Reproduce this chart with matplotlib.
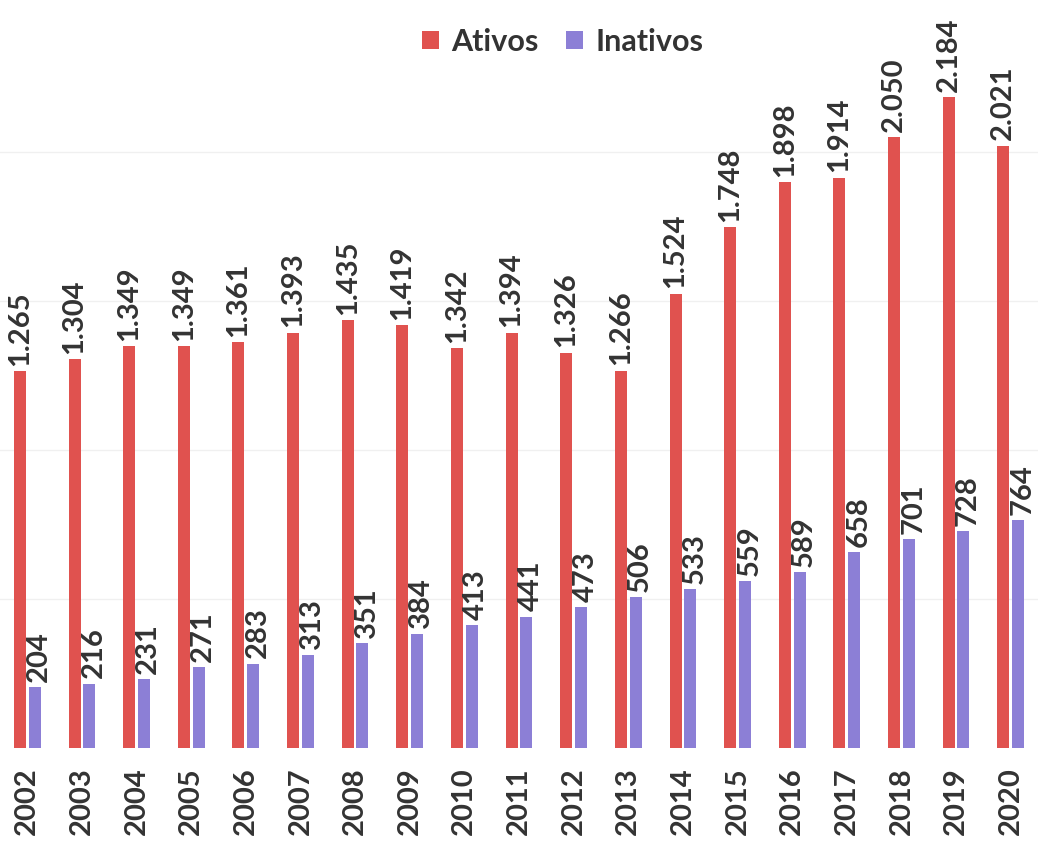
import matplotlib
matplotlib.use("Agg")
import matplotlib.pyplot as plt
import numpy as np

# Dados
anos = ['2002', '2003', '2004', '2005', '2006', '2007', '2008', '2009', '2010',
        '2011', '2012', '2013', '2014', '2015', '2016', '2017', '2018', '2019', '2020']
ativos = [1265, 1304, 1349, 1349, 1361, 1393, 1435, 1419, 1342,
          1394, 1326, 1266, 1524, 1748, 1898, 1914, 2050, 2184, 2021]
inativos = [204, 216, 231, 271, 283, 313, 351, 384, 413,
            441, 473, 506, 533, 559, 589, 658, 701, 728, 764]

plt.rcParams['font.family'] = ['Lato', 'DejaVu Sans']

cor_ativos = '#e0524f'
cor_inativos = '#8c7fd6'
cor_texto = '#333333'

fig = plt.figure(figsize=(10.38, 8.42), dpi=100)
ax = fig.add_axes([0.0, 0.1116, 1.0, 0.885])

ind = np.arange(len(anos))
width = 0.22
off = 0.135

rects1 = ax.bar(ind - off, ativos, width, color=cor_ativos, label='Ativos', zorder=2)
rects2 = ax.bar(ind + off, inativos, width, color=cor_inativos, label='Inativos', zorder=2)


def fmt(v):
    return f'{v:,}'.replace(',', '.')


def autolabel(rects, valores, dx=0.0):
    for r, v in zip(rects, valores):
        ax.text(r.get_x() + r.get_width() / 2 + dx, r.get_height() + 18, fmt(v),
                rotation=90, ha='center', va='bottom', fontsize=21,
                fontweight='bold', color=cor_texto)


autolabel(rects1, ativos)
autolabel(rects2, inativos, dx=0.08)

ax.set_xlim(-0.5, len(anos) - 0.5)
ax.set_ylim(0, 2500)
ax.set_yticks([500, 1000, 1500, 2000])
ax.yaxis.grid(True, color='#f0f0f0', linewidth=1, zorder=0)
ax.set_yticklabels([])
ax.tick_params(axis='both', length=0)
ax.set_xticks(ind)
ax.set_xticklabels(anos, rotation=90, fontsize=21, fontweight='bold', color=cor_texto)
ax.tick_params(axis='x', pad=14)
for s in ax.spines.values():
    s.set_visible(False)

leg = ax.legend(loc='center', bbox_to_anchor=(0.542, 0.948), ncols=2, frameon=False,
                prop={'size': 22, 'weight': 'bold'}, handlelength=0.55, handleheight=0.55,
                columnspacing=0.9, handletextpad=0.4)
for t in leg.get_texts():
    t.set_color(cor_texto)

plt.savefig('out.png', dpi=100)
